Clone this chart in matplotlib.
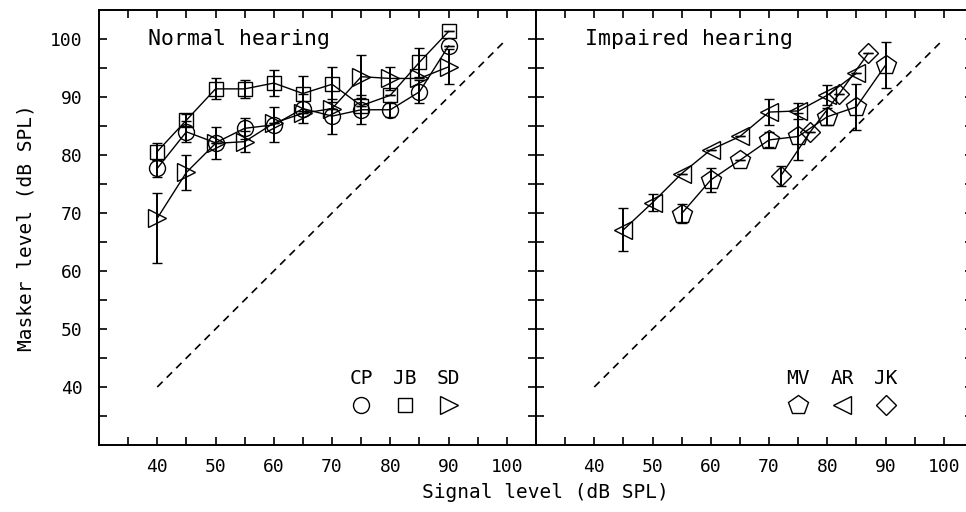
import matplotlib
matplotlib.use("Agg")
import matplotlib.pyplot as plt
import numpy as np

# Normal hearing listeners (left panel)
sig_normal = [40, 45, 50, 55, 60, 65, 70, 75, 80, 85, 90]
cp_level = [77.7, 84.0, 82.1, 84.6, 85.2, 88.0, 86.7, 87.8, 87.8, 90.9, 98.8]
cp_err = [1.5, 1.8, 2.8, 1.8, 3.0, 2.5, 3.0, 2.5, 1.2, 2.0, 0.0]
jb_level = [80.6, 86.0, 91.4, 91.4, 92.4, 90.6, 92.2, 88.5, 90.3, 96.0, 101.3]
jb_err = [1.5, 1.0, 1.8, 1.5, 2.2, 3.0, 3.0, 0.0, 0.0, 2.5, 0.0]
sd_level = [69.1, 77.0, 82.0, 82.3, 85.5, 87.2, 88.0, 93.5, 93.2, 93.2, 95.2]
sd_err_lo = [7.8, 3.0, 0.0, 1.8, 0.0, 0.0, 0.0, 3.7, 2.0, 0.0, 3.0]
sd_err_hi = [4.3, 3.0, 0.0, 1.8, 0.0, 0.0, 0.0, 3.7, 2.0, 0.0, 3.0]

# Impaired hearing listeners (right panel)
sig_mv = [55, 60, 65, 70, 75, 80, 85, 90]
mv_level = [69.9, 75.7, 79.1, 82.6, 83.2, 86.6, 88.3, 95.5]
mv_err = [1.6, 2.0, 0.0, 1.3, 4.0, 1.5, 4.0, 4.0]
sig_ar = [45, 50, 55, 60, 65, 70, 75, 80, 85]
ar_level = [67.1, 71.8, 76.8, 80.9, 83.2, 87.4, 87.6, 90.3, 94.1]
ar_err = [3.7, 1.5, 0.0, 0.0, 0.0, 2.2, 1.4, 1.7, 0.0]
sig_jk = [72, 77, 82, 87]
jk_level = [76.4, 83.9, 90.5, 97.5]
jk_err = [1.7, 0.0, 0.0, 0.0]

mono = "DejaVu Sans Mono"
plt.rcParams['font.family'] = mono

fig = plt.figure(figsize=(9.66, 5.12), dpi=100)
W, H = 966.0, 512.0
ax1 = fig.add_axes([99 / W, 67 / H, 437 / W, 435 / H])
ax2 = fig.add_axes([536 / W, 67 / H, 437 / W, 435 / H])

line_kw = dict(color='black', lw=1.0, mfc='none', mec='black', mew=1.0,
               ecolor='black', elinewidth=1.4, capsize=3.6, capthick=1.4)


def draw_series(ax, x, y, err, marker, ms):
    ax.errorbar(x, y, yerr=err, marker=marker, ms=ms, **line_kw)


draw_series(ax1, sig_normal, cp_level, cp_err, 'o', 11.5)
draw_series(ax1, sig_normal, jb_level, jb_err, 's', 10.5)
draw_series(ax1, sig_normal, sd_level, [sd_err_lo, sd_err_hi], '>', 13)

draw_series(ax2, sig_mv, mv_level, mv_err, 'p', 14.5)
draw_series(ax2, sig_ar, ar_level, ar_err, '<', 13)
draw_series(ax2, sig_jk, jk_level, jk_err, 'D', 10.5)

for ax in (ax1, ax2):
    ax.plot([40, 100], [40, 100], ls=(0, (4.5, 3.5)), color='black', lw=1.2)
    ax.set_xlim(30, 105)
    ax.set_ylim(30, 105)
    ax.set_xticks(np.arange(35, 105, 5), minor=True)
    ax.set_xticks(np.arange(40, 101, 10))
    ax.set_yticks(np.arange(35, 105, 5), minor=True)
    ax.set_yticks(np.arange(40, 101, 10))
    ax.tick_params(which='both', direction='in', length=6, width=1.2,
                   top=True, right=True, labelsize=13)
    ax.tick_params(axis='x', pad=9)
    ax.tick_params(axis='y', pad=12)
    for s in ax.spines.values():
        s.set_linewidth(1.4)

ax2.tick_params(labelleft=False)

ax1.text(38.4, 100, "Normal hearing", fontsize=15.5, va='center', ha='left')
ax2.text(38.4, 100, "Impaired hearing", fontsize=15.5, va='center', ha='left')

# in-panel marker keys
key_x = [75, 82.5, 90]
for ax, names, marks, sizes in (
        (ax1, ["CP", "JB", "SD"], ['o', 's', '>'], [11.5, 10.5, 13]),
        (ax2, ["MV", "AR", "JK"], ['p', '<', 'D'], [14.5, 13, 10.5])):
    for kx, name, m, ms in zip(key_x, names, marks, sizes):
        ax.text(kx, 41.5, name, fontsize=14, ha='center', va='center')
        ax.plot([kx], [36.9], marker=m, ms=ms, mfc='none', mec='black',
                mew=1.0, ls='none')

ax1.set_ylabel("Masker level (dB SPL)", fontsize=14, labelpad=10)
fig.text(545 / W, 1 - 493 / H, "Signal level (dB SPL)", fontsize=14,
         ha='center', va='center')

fig.savefig("out.png", dpi=100)
